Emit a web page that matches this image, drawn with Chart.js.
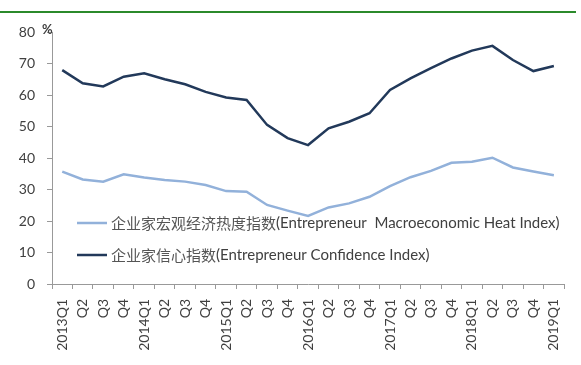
<!DOCTYPE html>
<html lang="zh">
<head>
  <meta charset="UTF-8">
  <title>企业家信心指数</title>
  <script src="https://cdn.jsdelivr.net/npm/chart.js"></script>
  <style>
    html, body {
      margin: 0;
      padding: 0;
      background: #fff;
    }
    #wrap {
      position: relative;
      width: 581px;
      height: 365px;
    }
  </style>
</head>
<body>
  <div id="wrap">
    <canvas id="chart" width="581" height="365"></canvas>
  </div>

  <script>
    const quarters = [
      "2013Q1", "Q2", "Q3", "Q4",
      "2014Q1", "Q2", "Q3", "Q4",
      "2015Q1", "Q2", "Q3", "Q4",
      "2016Q1", "Q2", "Q3", "Q4",
      "2017Q1", "Q2", "Q3", "Q4",
      "2018Q1", "Q2", "Q3", "Q4",
      "2019Q1"
    ];
    const heatIndex = [
      35.7, 33.2, 32.5, 34.8,
      33.8, 33.0, 32.5, 31.4,
      29.5, 29.3, 25.1, 23.3,
      21.6, 24.3, 25.6, 27.7,
      31.1, 33.9, 35.9, 38.5,
      38.8, 40.1, 37.0, 35.7,
      34.5
    ];
    const confidenceIndex = [
      67.9, 63.7, 62.7, 65.8,
      66.9, 65.0, 63.4, 61.0,
      59.2, 58.4, 50.5, 46.3,
      44.1, 49.4, 51.5, 54.2,
      61.6, 65.3, 68.5, 71.6,
      74.1, 75.6, 71.1, 67.6,
      69.2
    ];
    const legendCn = ["企业家宏观经济热度指数", "企业家信心指数"];
    const legendEn = ["(Entrepreneur  Macroeconomic Heat Index)", "(Entrepreneur Confidence Index)"];
    const lightBlue = "#92b1da";
    const darkBlue = "#22395a";
    const textColor = "#404040";

    // top rule, "%" unit and the legend inside the plot
    const decorations = {
      id: "decorations",
      afterDraw(chart) {
        const c = chart.ctx;
        const yScale = chart.scales.y;
        c.save();
        c.strokeStyle = "#2b8a2b";
        c.lineWidth = 2;
        c.beginPath();
        c.moveTo(0, 12);
        c.lineTo(576, 12);
        c.stroke();

        c.fillStyle = textColor;
        c.font = "bold 13px Lato";
        c.textAlign = "left";
        c.textBaseline = "middle";
        c.fillText("%", yScale.right - 10, yScale.top - 2);

        const colors = [lightBlue, darkBlue];
        const rows = [223, 255];
        rows.forEach((y, i) => {
          c.strokeStyle = colors[i];
          c.lineWidth = 2.5;
          c.beginPath();
          c.moveTo(77, y);
          c.lineTo(107, y);
          c.stroke();
          c.fillStyle = "#555";
          c.font = "15px 'Noto Sans CJK SC'";
          c.fillText(legendCn[i], 111, y);
          const w = c.measureText(legendCn[i]).width;
          c.fillStyle = textColor;
          c.font = "15px Lato";
          c.fillText(legendEn[i], 111 + w, y);
        });
        c.restore();
      }
    };

    new Chart(document.getElementById("chart"), {
      type: "line",
      data: {
        labels: quarters,
        datasets: [
          {
            label: legendCn[0] + legendEn[0],
            data: heatIndex,
            borderColor: lightBlue,
            borderWidth: 2.5,
            pointRadius: 0,
            tension: 0
          },
          {
            label: legendCn[1] + legendEn[1],
            data: confidenceIndex,
            borderColor: darkBlue,
            borderWidth: 2.5,
            pointRadius: 0,
            tension: 0
          }
        ]
      },
      options: {
        responsive: false,
        animation: false,
        layout: {
          padding: { top: 32, right: 16, left: 0, bottom: 0 }
        },
        plugins: {
          legend: { display: false },
          tooltip: { enabled: false }
        },
        scales: {
          x: {
            offset: true,
            grid: {
              offset: true,
              drawOnChartArea: false,
              tickLength: 5,
              color: "#999"
            },
            border: { color: "#999" },
            ticks: {
              minRotation: 90,
              maxRotation: 90,
              autoSkip: false,
              padding: 10,
              color: textColor,
              font: { family: "Lato", size: 14 }
            },
            afterFit(scale) { scale.height = 81; }
          },
          y: {
            min: 0,
            max: 80,
            grid: {
              drawOnChartArea: false,
              tickLength: 5,
              color: "#999"
            },
            border: { color: "#999" },
            ticks: {
              stepSize: 10,
              padding: 12,
              color: textColor,
              font: { family: "Lato", size: 14 }
            },
            afterFit(scale) { scale.width = 52; }
          }
        }
      },
      plugins: [decorations]
    });
  </script>
</body>
</html>
